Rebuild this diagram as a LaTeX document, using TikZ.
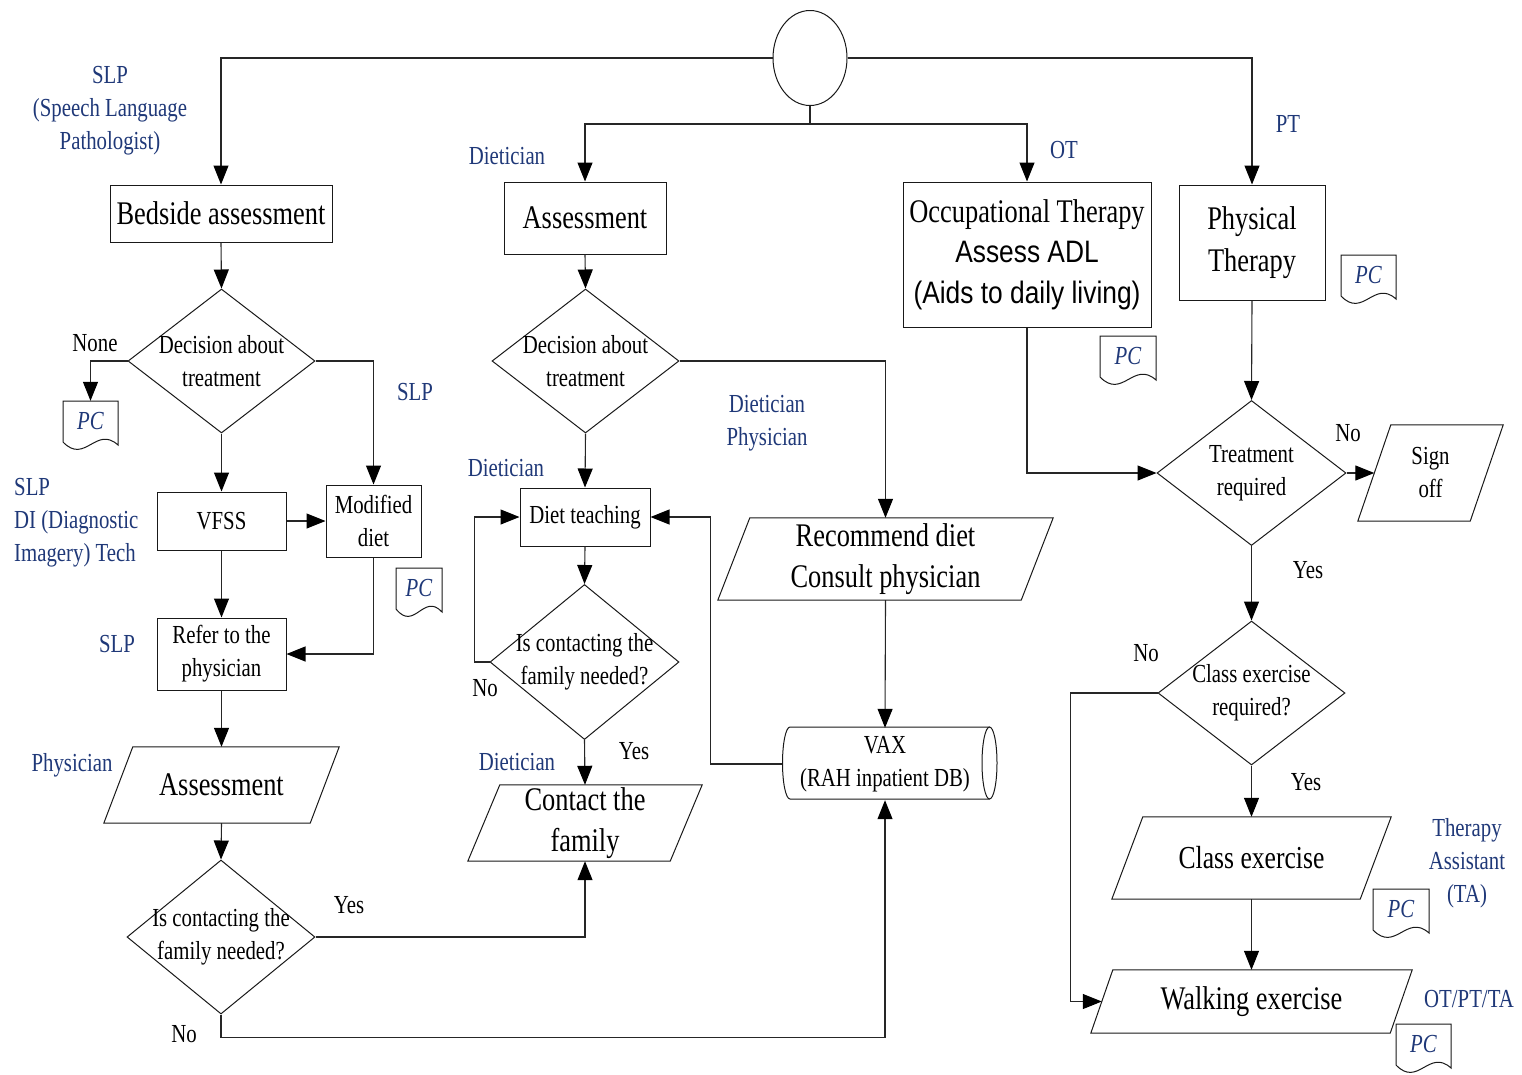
\documentclass[tikz,border=0pt]{standalone}
\usepackage{fontspec}
\setmainfont{Liberation Serif}[FakeStretch=0.8]
\newfontfamily\sanscond{Liberation Sans}[FakeStretch=0.85]
\usetikzlibrary{arrows.meta,shapes.geometric,calc}
\definecolor{roleblue}{RGB}{31,56,120}
\newcommand\bigf{\fontsize{33}{41}\selectfont}
\newcommand\midf{\fontsize{26}{33}\selectfont}

% parallelogram outline around a plain rectangle node
\newcommand\parashape[2]{%
  \draw[fedge] ($(#1.north west)+(#2,0)$) -- (#1.north east)
    -- ($(#1.south east)-(#2,0)$) -- (#1.south west) -- cycle;}

% "PC" document symbol: name, left, top, width
\newcommand\pcdoc[4]{%
  \node[fpc, minimum width=#4, minimum height=40] (#1) at (#2+#4/2, #3+20) {PC};
  \draw[fedge] (#2,#3+41) -- (#2,#3) -- (#2+#4,#3) -- (#2+#4,#3+44)
    .. controls (#2+#4*0.6,#3+24) and (#2+#4*0.4,#3+64) .. (#2,#3+41);}

\tikzset{
  fwire/.style={draw=black!85, line width=1.1pt},
  fconn/.style={fwire, -{Triangle[length=19pt,width=15pt,color=black,fill=black]}},
  fedge/.style={draw=black!90, line width=1pt},
  fbox/.style={rectangle, fedge, inner sep=0pt, align=center},
  fpara/.style={rectangle, inner sep=0pt, align=center},
  fdia/.style={diamond, fedge, inner sep=0pt},
  ftext/.style={align=center, font=\midf},
  frole/.style={text=roleblue, font=\midf, align=center, inner sep=0pt},
  fans/.style={font=\midf, inner sep=0pt},
  fpc/.style={rectangle, inner sep=0pt, text=roleblue, font=\midf\itshape},
}

\begin{document}
\begin{tikzpicture}[x=1pt, y=-1pt]
\useasboundingbox (0,0) rectangle (1522,1074);

% ---------- start and the four branches ----------
\node[ellipse, fedge, minimum width=74, minimum height=95, inner sep=0pt] (start) at (810,58) {};
\coordinate (split) at (810,124);

% ---------- speech language column ----------
\node[fbox, minimum width=222, minimum height=57, font=\bigf] (bed) at (221,213.5) {Bedside assessment};
\node[fdia, minimum width=187, minimum height=144,
      label={[ftext]center:Decision about\\treatment}] (d1) at (221.5,361) {};
\node[fbox, minimum width=129, minimum height=58, font=\midf] (vfss) at (221.5,521) {VFSS};
\node[fbox, minimum width=95, minimum height=72, font=\midf] (mod) at (373.5,521) {Modified\\diet};
\node[fbox, minimum width=129, minimum height=72, font=\midf] (refer) at (221.5,654) {Refer to the\\physician};
\node[fpara, minimum width=235, minimum height=76, font=\bigf] (pass) at (221.5,785) {Assessment};
\parashape{pass}{29}
\node[fdia, minimum width=188, minimum height=154,
      label={[ftext]center:Is contacting the\\family needed?}] (d3) at (221,937) {};

% ---------- dietician column ----------
\node[fbox, minimum width=162, minimum height=72, font=\bigf] (dass) at (585,218) {Assessment};
\node[fdia, minimum width=187, minimum height=144,
      label={[ftext]center:Decision about\\treatment}] (d2) at (585.5,361) {};
\node[fbox, minimum width=130, minimum height=58, font=\midf] (teach) at (585,517) {Diet teaching};
\node[fdia, minimum width=189, minimum height=155,
      label={[ftext]center:Is contacting the\\family needed?}] (d4) at (584.5,662) {};
\node[fpara, minimum width=234, minimum height=76, font=\bigf] (fam) at (585,823) {Contact the\\family};
\parashape{fam}{32}
\node[fpara, minimum width=335, minimum height=82, font=\bigf] (rec) at (885.5,559) {Recommend diet\\Consult physician};
\parashape{rec}{32}

% database cylinder
\node[inner sep=0pt, minimum width=205, minimum height=72, align=center, font=\midf] (vax) at (885,764) {VAX\\(RAH inpatient DB)};
\draw[fedge] (989.5,727) -- (790,727)
  .. controls (785.86,727) and (782.5,743.1) .. (782.5,763)
  .. controls (782.5,782.9) and (785.86,799) .. (790,799) -- (989.5,799);
\draw[fedge] (989.5,763) ellipse [x radius=7.5, y radius=36];

% ---------- therapy columns ----------
\node[fbox, minimum width=248, minimum height=145, font=\fontsize{33}{40.5}\selectfont] (ot) at (1027,254.5)
  {Occupational Therapy\\{\sanscond\fontsize{31}{40.5}\selectfont Assess ADL}\\{\sanscond\fontsize{31}{40.5}\selectfont (Aids to daily living)}};
\node[fbox, minimum width=146, minimum height=115, font=\fontsize{33}{42}\selectfont] (pt) at (1252,242.5) {Physical\\Therapy};
\node[fdia, minimum width=189, minimum height=145,
      label={[ftext]center:Treatment\\required}] (d5) at (1251.5,473) {};
\node[fpara, minimum width=145, minimum height=96, font=\midf] (sign) at (1430.5,473) {Sign\\off};
\parashape{sign}{33}
\node[fdia, minimum width=187, minimum height=144,
      label={[ftext]center:Class exercise\\required?}] (d6) at (1251.5,693) {};
\node[fpara, minimum width=279, minimum height=82, font=\fontsize{32}{40}\selectfont] (cls) at (1251.5,858) {Class exercise};
\parashape{cls}{31}
\node[fpara, minimum width=321, minimum height=63, font=\bigf] (walk) at (1251.5,1001.5) {Walking exercise};
\parashape{walk}{22}

% ---------- PC documents ----------
\pcdoc{pc1}{63}{401}{55}
\pcdoc{pc2}{396}{568}{46}
\pcdoc{pc3}{1100}{336}{56}
\pcdoc{pc4}{1341}{255}{55}
\pcdoc{pc5}{1373}{889}{56}
\pcdoc{pc6}{1396}{1024}{55}

% ---------- connectors ----------
\draw[fconn] (start.west) -| (bed.north);
\draw[fconn] (start.east) -| (pt.north);
\draw[fwire] (start.south) -- (split);
\draw[fconn] (split) -| (dass.north);
\draw[fconn] (split) -| (ot.north);

\draw[fconn] (bed.south) -- (d1.north);
\draw[fconn] (d1.west) -| (pc1.north);
\draw[fconn] (d1.east) -| (mod.north);
\draw[fconn] (d1.south) -- (vfss.north);
\draw[fconn] (vfss.east) -- (mod.west);
\draw[fconn] (vfss.south) -- (refer.north);
\draw[fconn] (mod.south) |- (refer.east);
\draw[fconn] (refer.south) -- (pass.north);
\draw[fconn] (pass.south) -- (d3.north);
\draw[fconn] (d3.east) -| (fam.south);
\draw[fconn] (d3.south) -- ++(0,23) -| (vax.south);

\draw[fconn] (dass.south) -- (d2.north);
\draw[fconn] (d2.south) -- (teach.north);
\draw[fconn] (d2.east) -| (rec.north);
\draw[fconn] (teach.south) -- (d4.north);
\draw[fconn] (d4.west) -- ++(-15,0) |- (teach.west);
\draw[fconn] (d4.south) -- (fam.north);
\draw[fconn] (vax.west) -- ++(-72,0) |- (teach.east);
\draw[fconn] (rec.south) -- (vax.north);

\draw[fconn] (ot.south) |- (d5.west);
\draw[fconn] (pt.south) -- (d5.north);
\draw[fconn] (d5.east) -- ($(sign.west)+(16.5,0)$);
\draw[fconn] (d5.south) -- (d6.north);
\draw[fconn] (d6.south) -- (cls.north);
\draw[fconn] (cls.south) -- (walk.north);
\draw[fconn] (d6.west) -- ++(-87,0) |- ($(walk.west)+(11,0)$);

% ---------- role labels ----------
\node[frole] (r1) at (110,111) {SLP\\(Speech Language\\Pathologist)};
\node[frole] (r2) at (507,156) {Dietician};
\node[frole] (r3) at (1064,150) {OT};
\node[frole] (r4) at (1288,124) {PT};
\node[frole] (r5) at (415,392) {SLP};
\node[frole, align=left, anchor=west] (r6) at (14,523) {SLP\\DI (Diagnostic\\Imagery) Tech};
\node[frole] (r7) at (117,644) {SLP};
\node[frole] (r8) at (72,765) {Physician};
\node[frole] (r9) at (506,468) {Dietician};
\node[frole] (r10) at (767,423) {Dietician\\Physician};
\node[frole] (r11) at (517,762) {Dietician};
\node[frole] (r12) at (1467,863) {Therapy\\Assistant\\(TA)};
\node[frole] (r13) at (1469,999) {OT/PT/TA};

% ---------- branch answers ----------
\node[fans] (a1) at (95,343) {None};
\node[fans] (a2) at (349,905) {Yes};
\node[fans] (a3) at (184,1034) {No};
\node[fans] (a4) at (485,688) {No};
\node[fans] (a5) at (634,751) {Yes};
\node[fans] (a6) at (1348,433) {No};
\node[fans] (a7) at (1308,570) {Yes};
\node[fans] (a8) at (1146,653) {No};
\node[fans] (a9) at (1306,782) {Yes};
\end{tikzpicture}
\end{document}
